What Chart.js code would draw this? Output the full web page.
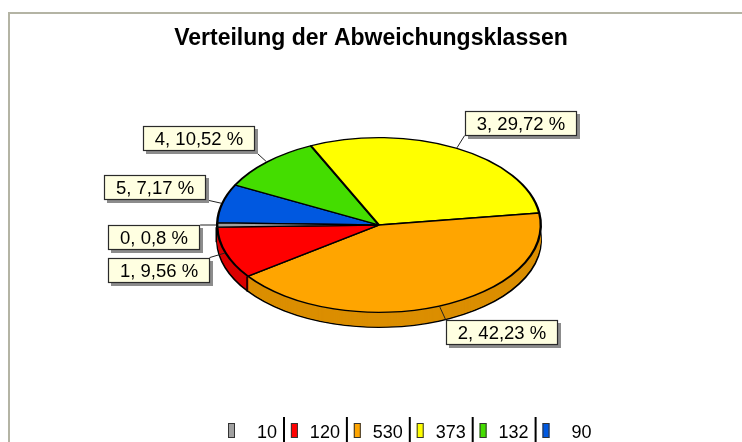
<!DOCTYPE html>
<html>
<head>
<meta charset="utf-8">
<title>Verteilung der Abweichungsklassen</title>
<script src="https://cdn.jsdelivr.net/npm/chart.js@4.4.1/dist/chart.umd.min.js"></script>
<style>
    html, body { margin: 0; padding: 0; background: #fff; }
    canvas { display: block; }
</style>
</head>
<body>
<canvas id="classChart" width="742" height="442"></canvas>
<script>
// Abweichungsklassen and their counts
const classes = ['0', '1', '2', '3', '4', '5'];
const counts = [10, 120, 530, 373, 132, 90];
const classColors = ['#a0a0a0', '#ff0000', '#ffa500', '#ffff00', '#44dd00', '#0058e0'];

const total = counts.reduce((a, b) => a + b, 0);
const FONT = "'Liberation Sans', Arial, sans-serif";

// 3D look of the pie
const tilt = 0.54;     // vertical squash of the top face
const depth = 15;      // height of the side wall in px
const shiftX = 8;      // pie sits a little right of the title

function pct(v) {
    return String(Number((v / total * 100).toFixed(2))).replace('.', ',');
}

function darken(hex, f) {
    const n = parseInt(hex.slice(1), 16);
    const r = Math.round(((n >> 16) & 255) * f);
    const g = Math.round(((n >> 8) & 255) * f);
    const b = Math.round((n & 255) * f);
    return 'rgb(' + r + ',' + g + ',' + b + ')';
}

// draw an arc element with another fill / border
function paintArc(ctx, arc, fill, bw) {
    const ghost = Object.create(arc);
    ghost.options = Object.assign({}, arc.options, { backgroundColor: fill, borderWidth: bw });
    Chart.ArcElement.prototype.draw.call(ghost, ctx);
}

const frame = {
    id: 'frame',
    beforeDraw(chart) {
        const ctx = chart.ctx;
        ctx.save();
        ctx.strokeStyle = '#b4b4a4';
        ctx.lineWidth = 2;
        ctx.strokeRect(9, 13, chart.width + 20, chart.height + 20);
        ctx.restore();
    }
};

const pie3d = {
    id: 'pie3d',
    beforeDatasetsDraw(chart) {
        const ctx = chart.ctx;
        const arcs = chart.getDatasetMeta(0).data;
        const cx = arcs[0].x, cy = arcs[0].y;
        ctx.save();
        ctx.translate(cx + shiftX, cy);
        ctx.scale(1, tilt);
        ctx.translate(-cx, -cy);

        // side wall, stacked from the bottom up
        const sides = chart.data.datasets[0].backgroundColor.map(c => darken(c, 0.86));
        for (let d = depth; d >= 1; d--) {
            ctx.save();
            ctx.translate(0, d / tilt);
            arcs.forEach((arc, i) => paintArc(ctx, arc, sides[i], d === depth ? 2.4 : 0));
            ctx.restore();
        }

        // slice edges on the front of the wall
        ctx.strokeStyle = '#000';
        ctx.lineWidth = 1.5;
        arcs.forEach(arc => {
            const a = arc.startAngle;
            if (Math.sin(a) > 0) {
                const px = cx + (arc.outerRadius + 1) * Math.cos(a);
                const py = cy + (arc.outerRadius + 1) * Math.sin(a);
                ctx.beginPath();
                ctx.moveTo(px, py);
                ctx.lineTo(px, py + depth / tilt);
                ctx.stroke();
            }
        });
        // top face is drawn by chart.js inside this transform
    },
    afterDatasetsDraw(chart) {
        chart.ctx.restore();
    }
};

const calloutLabels = {
    id: 'calloutLabels',
    afterDraw(chart) {
        const ctx = chart.ctx;
        const arcs = chart.getDatasetMeta(0).data;
        ctx.save();
        ctx.font = '18.5px ' + FONT;
        ctx.textBaseline = 'middle';
        ctx.textAlign = 'center';
        arcs.forEach((arc, j) => {
            const i = counts.length - 1 - j;
            const text = classes[i] + ', ' + pct(counts[i]) + ' %';
            const a = (arc.startAngle + arc.endAngle) / 2;
            const cos = Math.cos(a), sin = Math.sin(a);
            const X = arc.x + shiftX, Y = arc.y;
            const rx = arc.outerRadius + 1, ry = rx * tilt;
            const ex = X + rx * cos, ey = Y + ry * sin;
            const bx = X + (rx + 16) * cos, by = Y + (ry + 14) * sin;
            const w = Math.round(ctx.measureText(text).width + 24), h = 25;
            const left = Math.round(cos >= 0 ? bx : bx - w);
            const top = Math.round(sin > -0.1 ? by : by - h);

            ctx.strokeStyle = '#222';
            ctx.lineWidth = 1;
            ctx.beginPath();
            ctx.moveTo(ex, ey);
            ctx.lineTo(bx, by);
            ctx.stroke();

            ctx.fillStyle = '#8c8c8c';
            ctx.fillRect(left + 3, top + 3, w, h);
            ctx.fillStyle = '#ffffe1';
            ctx.fillRect(left, top, w, h);
            ctx.strokeStyle = '#2a2a2a';
            ctx.lineWidth = 1.2;
            ctx.strokeRect(left + 0.5, top + 0.5, w - 1, h - 1);
            ctx.fillStyle = '#000';
            ctx.fillText(text, left + w / 2, top + h / 2 + 1);
        });
        ctx.restore();
    }
};

const classLegend = {
    id: 'classLegend',
    afterDraw(chart, args, opts) {
        const ctx = chart.ctx;
        ctx.save();
        ctx.font = '18px ' + FONT;
        ctx.textAlign = 'right';
        ctx.textBaseline = 'alphabetic';
        counts.forEach((v, i) => {
            const x = opts.left + i * opts.pitch;
            ctx.fillStyle = classColors[i];
            ctx.fillRect(x, opts.top, 7, 15);
            ctx.strokeStyle = '#333';
            ctx.lineWidth = 1;
            ctx.strokeRect(x + 0.5, opts.top + 0.5, 6, 14);
            ctx.fillStyle = '#000';
            ctx.fillText(String(v), x + 49, opts.top + 14.5);
            if (i < counts.length - 1) {
                ctx.fillRect(x + 55, opts.top - 6, 2, 26);
            }
        });
        ctx.restore();
    }
};

// clockwise order in chart.js, so feed the slices reversed
const sliceData = counts.slice().reverse();
const sliceColors = classColors.slice().reverse();
// class 0 centred at 9 o'clock
const startRotation = 270 + counts[0] / total * 180;

new Chart(document.getElementById('classChart'), {
    type: 'pie',
    data: {
        labels: classes.slice().reverse(),
        datasets: [{
            data: sliceData,
            backgroundColor: sliceColors,
            borderColor: '#000',
            borderWidth: 2.4
        }]
    },
    options: {
        responsive: false,
        maintainAspectRatio: false,
        devicePixelRatio: 1,
        animation: false,
        rotation: startRotation,
        layout: {
            padding: { top: 0, bottom: 54, left: 0, right: 0 }
        },
        plugins: {
            title: {
                display: true,
                text: 'Verteilung der Abweichungsklassen',
                color: '#000',
                font: { family: FONT, size: 23, weight: 'bold' },
                padding: { top: 25, bottom: 9.4 }
            },
            legend: { display: false },
            tooltip: { enabled: false },
            classLegend: { left: 228, pitch: 62.9, top: 423 }
        }
    },
    plugins: [frame, pie3d, calloutLabels, classLegend]
});
</script>
</body>
</html>
